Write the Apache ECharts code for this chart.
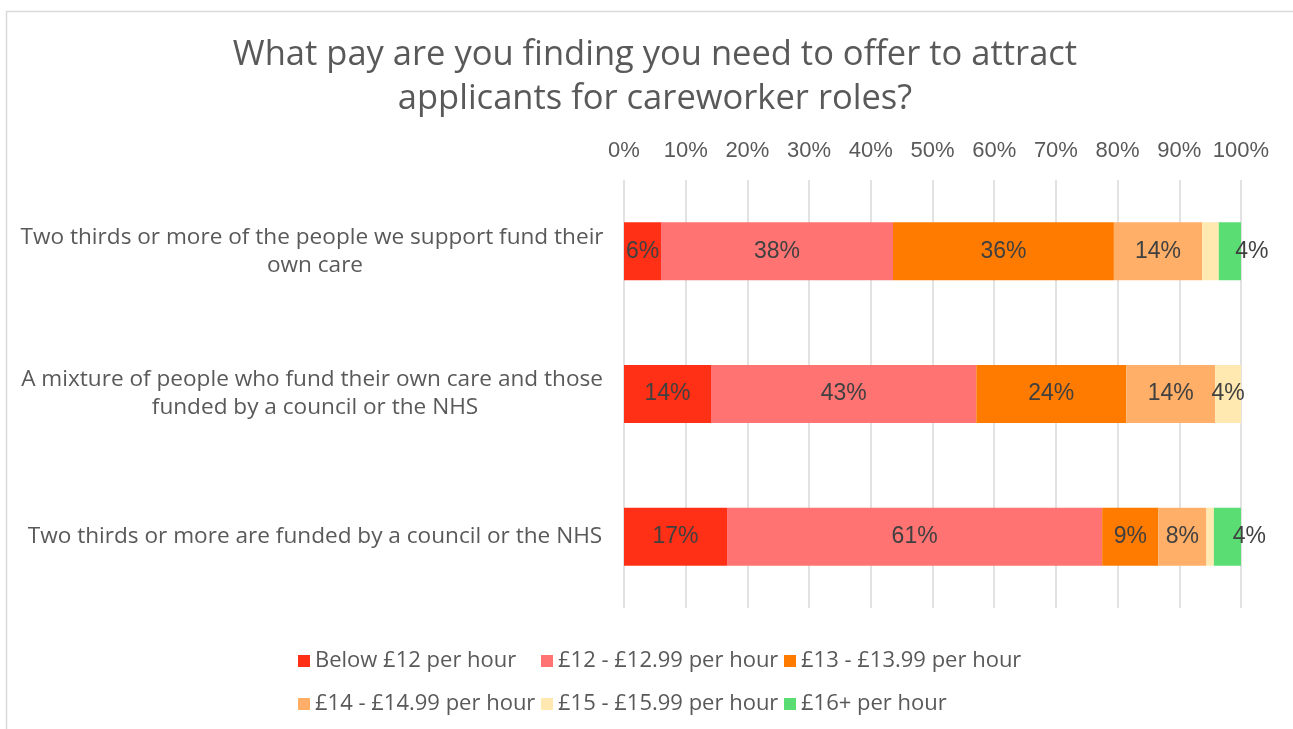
<!DOCTYPE html>
<html>
<head>
<meta charset="utf-8">
<script src="https://cdn.jsdelivr.net/npm/echarts@6/dist/echarts.min.js"></script>
<style>
  html, body { margin: 0; padding: 0; background: #fff; }
  #chart { width: 1293px; height: 729px; }
</style>
</head>
<body>
<div id="chart"></div>
<script>
// Funding mix of the people supported (one bar each)
const categories = [
  'Two thirds or more of the people we support fund their own care',
  'A mixture of people who fund their own care and those funded by a council or the NHS',
  'Two thirds or more are funded by a council or the NHS'
];

// Pay bands offered to attract careworker applicants
const bandNames = [
  'Below £12 per hour',
  '£12 - £12.99 per hour',
  '£13 - £13.99 per hour',
  '£14 - £14.99 per hour',
  '£15 - £15.99 per hour',
  '£16+ per hour'
];

// Share of respondents (%) per band, in category order
const below12 = [6.0, 14.1, 16.7];
const band12 = [37.6, 43.0, 60.8];
const band13 = [35.8, 24.3, 9.1];
const band14 = [14.3, 14.4, 7.8];
const band15 = [2.7, 4.2, 1.2];
const band16 = [3.6, 0, 4.4];

const bandValues = [below12, band12, band13, band14, band15, band16];

const bandColors = ['#FF3015', '#FF7373', '#FF7B00', '#FFAF67', '#FFE9B0', '#5ADD72'];

const xTicks = [0, 10, 20, 30, 40, 50, 60, 70, 80, 90, 100];

const textGrey = '#595959';
const labelFont = '"Liberation Sans", Arial, sans-serif';
const bodyFont = '"Open Sans", "Noto Sans", sans-serif';

const chart = echarts.init(document.getElementById('chart'), null, { renderer: 'canvas' });

const series = bandNames.map((name, i) => ({
  name: name,
  type: 'bar',
  stack: 'total',
  barWidth: 58,
  data: bandValues[i],
  itemStyle: { color: bandColors[i] },
  label: {
    show: true,
    position: 'inside',
    // the last, narrow band has its label nudged past the bar end
    offset: i === bandNames.length - 1 ? [22, 0] : [0, 0],
    color: '#404040',
    fontFamily: labelFont,
    fontSize: 23,
    formatter: p => (p.value >= 3 ? Math.round(p.value) + '%' : '')
  },
  emphasis: { disabled: true }
}));

// Legend laid out as a fixed 3-column grid
const legendCols = [298, 541, 784];
const legendRows = [650, 693];
const legends = bandNames.map((name, i) => ({
  data: [name],
  left: legendCols[i % 3],
  top: legendRows[Math.floor(i / 3)],
  icon: 'rect',
  itemWidth: 12,
  itemHeight: 12,
  padding: 0,
  selectedMode: false,
  textStyle: { color: textGrey, fontFamily: bodyFont, fontSize: 22 }
}));

chart.setOption({
  animation: false,
  backgroundColor: '#fff',
  title: {
    text: 'What pay are you finding you need to offer to attract\napplicants for careworker roles?',
    left: 655,
    textAlign: 'center',
    top: 33,
    padding: 0,
    textStyle: {
      color: textGrey,
      fontFamily: bodyFont,
      fontWeight: 'normal',
      fontSize: 34.5,
      lineHeight: 44
    }
  },
  graphic: [{
    type: 'rect',
    silent: true,
    shape: { x: 6.5, y: 11.5, width: 1400, height: 800 },
    style: { fill: 'none', stroke: '#d9d9d9', lineWidth: 1.5 }
  }],
  legend: legends,
  grid: { left: 624, right: 52, top: 180, bottom: 121 },
  xAxis: {
    type: 'value',
    position: 'top',
    min: 0,
    max: 100,
    interval: 10,
    axisLine: { show: false },
    axisTick: { show: false },
    splitLine: { show: true, lineStyle: { color: '#d9d9d9', width: 1.5 } },
    axisLabel: {
      margin: 18,
      color: textGrey,
      fontFamily: labelFont,
      fontSize: 22,
      customValues: xTicks,
      formatter: v => v + '%'
    }
  },
  yAxis: {
    type: 'category',
    inverse: true,
    data: categories,
    axisLine: { show: false },
    axisTick: { show: false },
    axisLabel: {
      margin: 309,
      align: 'center',
      width: 600,
      overflow: 'break',
      color: textGrey,
      fontFamily: bodyFont,
      fontSize: 22.6,
      lineHeight: 28
    }
  },
  series: series
});
</script>
</body>
</html>
